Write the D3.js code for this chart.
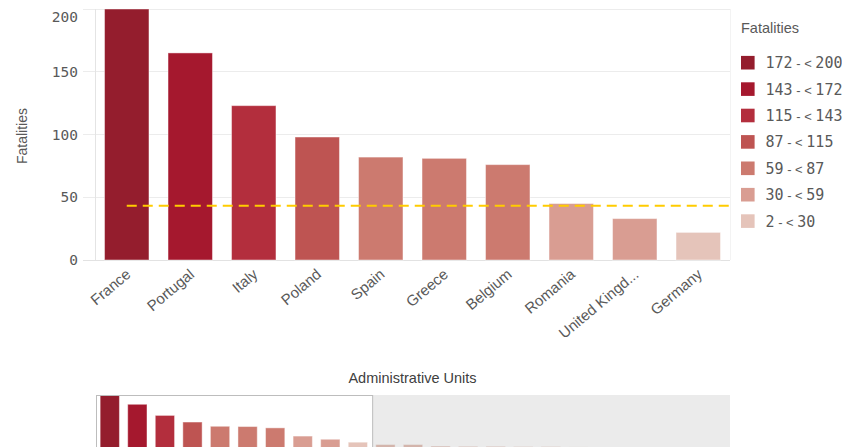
<!DOCTYPE html>
<html>
<head>
<meta charset="utf-8">
<script src="https://cdn.jsdelivr.net/npm/d3@7"></script>
<style>
  html, body { margin: 0; padding: 0; background: #ffffff; }
  svg { display: block; }
</style>
</head>
<body>
<script>
// ---- data ----
const categories = ["France","Portugal","Italy","Poland","Spain","Greece","Belgium","Romania","United Kingdom","Germany",
  "Croatia","Austria","Sweden","Bulgaria","Hungary","Slovenia","Czechia","Slovakia","Finland","Latvia","Cyprus","Denmark","Netherlands"];
const fatalities = [200,165,123,98,82,81,76,45,33,22,13,13,7,6,6,5,5,4,3,3,2,2,2];
const visibleCount = 10;
const yTicks = [0,50,100,150,200];
const legendBreaks = [2,30,59,87,115,143,172,200];
const legendColors = ["#e5c4ba","#d99d92","#cc7a6f","#be5452","#b32e3d","#a5182e","#941d2d"];
const yTitle = "Fatalities";
const legendTitle = "Fatalities";
const xTitle = "Administrative Units";

// ---- layout ----
const W = 842, H = 447;
const svg = d3.select("body").append("svg").attr("width", W).attr("height", H);
const sans = "'Liberation Sans', Arial, sans-serif";
const mono = "'DejaVu Sans Mono', monospace";
const textColor = "#595959";

const mainData = categories.slice(0, visibleCount).map((c, i) => ({ c, v: fatalities[i] }));
const allData = categories.map((c, i) => ({ c, v: fatalities[i] }));

const x = d3.scaleBand().domain(mainData.map(d => d.c)).range([95, 730]).paddingInner(0.3).paddingOuter(0.15);
const y = d3.scaleLinear().domain([0, 200]).range([260, 9]);
const color = d3.scaleThreshold().domain(legendBreaks.slice(1, -1)).range(legendColors);

// gridlines
svg.append("g").selectAll("line").data(yTicks).join("line")
  .attr("x1", 83).attr("x2", 730)
  .attr("y1", d => y(d)).attr("y2", d => y(d))
  .attr("stroke", d => d === 0 ? "#e2e2e2" : "#ececec").attr("stroke-width", 1)
  .attr("shape-rendering", "crispEdges");
// axis line and right boundary
svg.append("line").attr("x1", 95).attr("x2", 95).attr("y1", y(200)).attr("y2", y(0))
  .attr("stroke", "#e4e4e4").attr("shape-rendering", "crispEdges");
svg.append("line").attr("x1", 730).attr("x2", 730).attr("y1", y(200)).attr("y2", y(0))
  .attr("stroke", "#f3f3f3").attr("shape-rendering", "crispEdges");

// y axis labels
const yAxis = svg.append("g").attr("transform", "translate(95,0)")
  .call(d3.axisLeft(y).tickValues(yTicks).tickSize(0).tickPadding(17).tickFormat(d3.format("d")));
yAxis.select(".domain").remove();
yAxis.selectAll("text")
  .attr("font-family", mono).attr("font-size", 14.5).attr("fill", textColor)
  .attr("y", d => Math.max(0, 17 - y(d)));

// y title
svg.append("text").attr("transform", "translate(27,136) rotate(-90)")
  .attr("text-anchor", "middle").attr("font-family", sans).attr("font-size", 14)
  .attr("fill", textColor).text(yTitle);

// bars
svg.append("g").selectAll("rect").data(mainData).join("rect")
  .attr("x", d => x(d.c)).attr("width", x.bandwidth())
  .attr("y", d => y(d.v)).attr("height", d => y(0) - y(d.v))
  .attr("fill", d => color(d.v))
  .attr("stroke", "rgba(255,255,255,0.45)").attr("stroke-width", 1);

// reference line (average)
const avg = d3.mean(fatalities);
svg.append("line")
  .attr("x1", x(mainData[0].c) + x.bandwidth() / 2).attr("x2", 730)
  .attr("y1", y(avg)).attr("y2", y(avg))
  .attr("stroke", "#ffcc00").attr("stroke-width", 2).attr("stroke-dasharray", "10,6");

// x labels
const shortName = s => s.length > 12 ? s.slice(0, 12) + "..." : s;
svg.append("g").selectAll("text").data(mainData).join("text")
  .attr("transform", d => `translate(${x(d.c) + x.bandwidth() / 2 + 5},276) rotate(-40)`)
  .attr("text-anchor", "end").attr("font-family", sans).attr("font-size", 15)
  .attr("fill", textColor).text(d => shortName(d.c));

// legend
svg.append("text").attr("x", 741).attr("y", 33).attr("font-family", sans).attr("font-size", 14.5)
  .attr("fill", textColor).text(legendTitle);
const legendRows = d3.range(legendColors.length).reverse().map((k, i) => ({
  lo: legendBreaks[k], hi: legendBreaks[k + 1], col: legendColors[k], i
}));
const lg = svg.append("g").selectAll("g").data(legendRows).join("g")
  .attr("transform", d => `translate(741,${62.7 + d.i * 26.4})`);
lg.append("rect").attr("x", 0).attr("y", -6.8).attr("width", 13.6).attr("height", 13.6)
  .attr("fill", d => d.col);
const lt = lg.append("text").attr("x", 24.5).attr("y", 5.5).attr("fill", textColor).attr("font-size", 15);
lt.append("tspan").attr("font-family", mono).text(d => d.lo);
lt.append("tspan").attr("font-family", sans).attr("font-size", 13).style("white-space", "pre").text(" - < ");
lt.append("tspan").attr("font-family", mono).text(d => d.hi);

// x title
svg.append("text").attr("x", (95 + 730) / 2).attr("y", 383).attr("text-anchor", "middle")
  .attr("font-family", sans).attr("font-size", 14.5).attr("fill", "#404040").text(xTitle);

// navigator mini chart
const navTop = 395, navBottom = 448;
const xm = d3.scaleBand().domain(allData.map(d => d.c)).range([96, 730]).paddingInner(0.3).paddingOuter(0.15);
const ym = d3.scaleLinear().domain([0, 200]).range([navBottom, navTop]);
svg.append("g").selectAll("rect").data(allData).join("rect")
  .attr("x", d => xm(d.c)).attr("width", xm.bandwidth())
  .attr("y", d => ym(d.v)).attr("height", d => ym(0) - ym(d.v))
  .attr("fill", d => color(d.v))
  .attr("stroke", "rgba(255,255,255,0.45)").attr("stroke-width", 1);
const selEnd = xm(categories[visibleCount - 1]) + xm.step() * (1 - xm.paddingInner() / 2) + 1;
svg.append("rect").attr("x", selEnd).attr("y", navTop).attr("width", 730 - selEnd).attr("height", navBottom - navTop)
  .attr("fill", "#000").attr("fill-opacity", 0.08);
svg.append("rect").attr("x", 96.5).attr("y", navTop + 0.5).attr("width", selEnd - 96.5).attr("height", navBottom - navTop)
  .attr("fill", "none").attr("stroke", "#bdbdbd").attr("stroke-width", 1);
</script>
</body>
</html>
